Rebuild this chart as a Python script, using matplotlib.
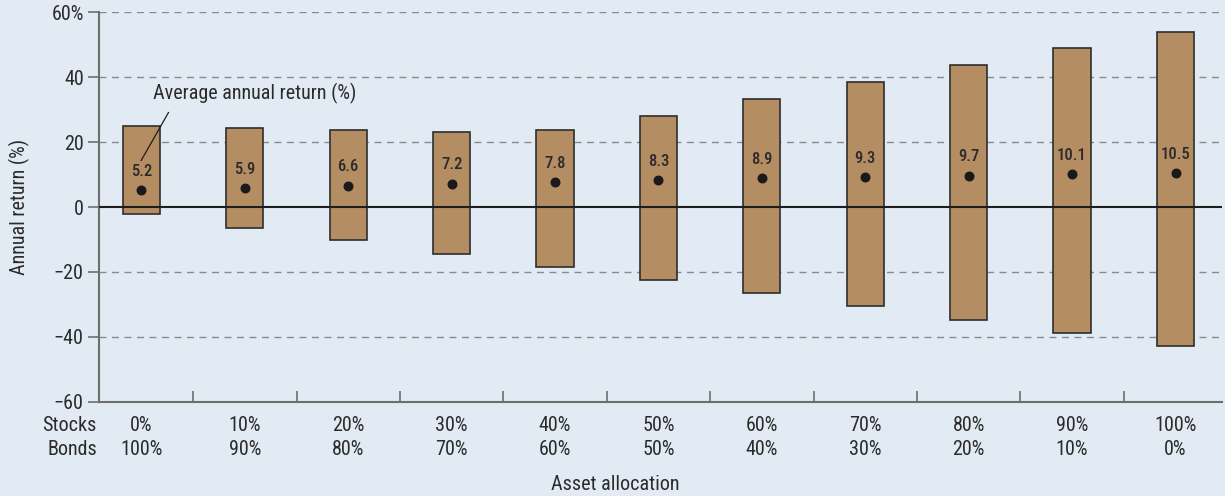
import matplotlib
matplotlib.use("Agg")
import matplotlib.pyplot as plt

stocks = ["0%", "10%", "20%", "30%", "40%", "50%", "60%", "70%", "80%", "90%", "100%"]
bonds = ["100%", "90%", "80%", "70%", "60%", "50%", "40%", "30%", "20%", "10%", "0%"]
best_year = [25.1, 24.4, 23.7, 23.0, 23.9, 28.0, 33.2, 38.6, 43.8, 48.9, 54.1]
worst_year = [-2.2, -6.3, -10.2, -14.4, -18.4, -22.6, -26.5, -30.6, -34.7, -38.8, -42.9]
avg_return = [5.2, 5.9, 6.6, 7.2, 7.8, 8.3, 8.9, 9.3, 9.7, 10.1, 10.5]
y_ticks = [-60, -40, -20, 0, 20, 40, 60]
y_tick_labels = ["\u221260", "\u221240", "\u221220", "0", "20", "40", "60%"]

plt.rcParams["font.family"] = ["Roboto Condensed", "Roboto", "DejaVu Sans"]

BG = "#E2EAF4"
BAR = "#B58D62"
TXT = "#2B2B2B"
AXC = "#6E6E6E"
FS = 14.5

fig = plt.figure(figsize=(12.25, 4.96), dpi=100, facecolor=BG)
ax = fig.add_axes([0.0808, 0.190, 0.9168, 0.785], facecolor=BG)

x = list(range(len(stocks)))
heights = [b - w for b, w in zip(best_year, worst_year)]
ax.bar(x, heights, bottom=worst_year, width=0.36, color=BAR,
       edgecolor="#2E2E2E", linewidth=1.2, zorder=3)

# grid lines
for yv in [-40, -20, 20, 40, 60]:
    ax.axhline(yv, color="#8A8A8A", lw=1.0, ls=(0, (5, 4)), zorder=1)
ax.axhline(0, color="#1E1E1E", lw=1.5, zorder=4)

ax.scatter(x, avg_return, s=38, color="#1A1A1A", zorder=5)
for xi, v in zip(x, avg_return):
    ax.annotate(f"{v:.1f}", (xi, v), xytext=(0, 13.5), textcoords="offset points",
                ha="center", va="center", fontsize=12, color=TXT,
                fontweight="medium", zorder=6)

ax.set_xlim(-0.41, 10.45)
ax.set_ylim(-60, 60)

for s in ["top", "right"]:
    ax.spines[s].set_visible(False)
for s in ["left", "bottom"]:
    ax.spines[s].set_color(AXC)
    ax.spines[s].set_linewidth(1.5)

ax.set_yticks(y_ticks)
ax.set_yticklabels(y_tick_labels)
ax.tick_params(axis="y", direction="out", length=8, width=1.2, color=AXC,
               labelsize=FS, labelcolor=TXT, pad=3)

ax.set_xticks([i + 0.5 for i in range(len(stocks) - 1)])
ax.set_xticklabels([])
ax.tick_params(axis="x", direction="in", length=8, width=1.2, color=AXC)

for xi, s, b in zip(x, stocks, bonds):
    ax.text(xi, -67.2, s, ha="center", va="center", fontsize=FS, color=TXT)
    ax.text(xi, -74.6, b, ha="center", va="center", fontsize=FS, color=TXT)
ax.text(-0.43, -67.2, "Stocks", ha="right", va="center", fontsize=FS, color=TXT)
ax.text(-0.43, -74.6, "Bonds", ha="right", va="center", fontsize=FS, color=TXT)

ax.set_ylabel("Annual return (%)", fontsize=FS, color=TXT)
ax.yaxis.set_label_coords(-0.061, 0.5)
fig.text(0.502, 0.024, "Asset allocation", ha="center", va="center",
         fontsize=FS, color=TXT)

# callout for the average-return markers
ax.text(0.11, 35.0, "Average annual return (%)", fontsize=FS, color=TXT,
        ha="left", va="center", zorder=6)
ax.plot([-0.005, 0.265], [14.2, 29.3], color="#1E1E1E", lw=0.9, zorder=6,
        solid_capstyle="butt")

fig.savefig("out.png", dpi=100, facecolor=BG)
